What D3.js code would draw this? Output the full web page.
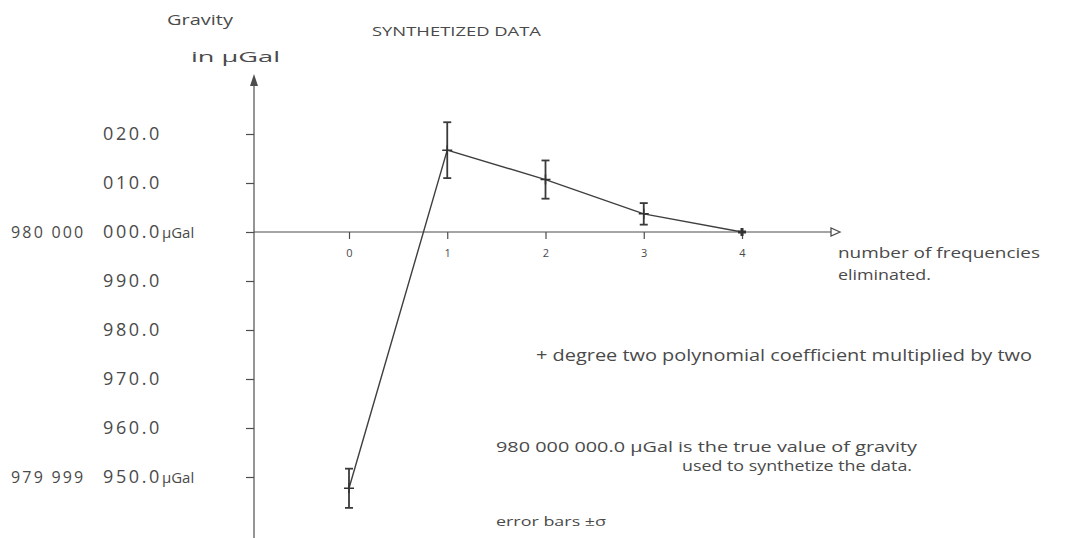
<!DOCTYPE html>
<html>
<head>
<meta charset="utf-8">
<script src="https://cdn.jsdelivr.net/npm/d3@7"></script>
<style>
  body { margin: 0; background: #fff; }
  text { font-family: "Open Sans", "DejaVu Sans", sans-serif; fill: #4a4a4a; }
</style>
</head>
<body>
<svg id="mainsvg" width="1066" height="538"></svg>
<script>
// values, gravity offsets in μGal relative to 980 000 000.0 μGal
const eliminated = [0, 1, 2, 3, 4]
const gravityOffset = [-52.3, 16.7, 10.7, 3.7, 0]
const sigma = [4.0, 5.7, 3.9, 2.2, 0]
const yTicks = [20, 10, 0, -10, -20, -30, -40, -50]
const yTickLabels = ['020.0', '010.0', '000.0', '990.0', '980.0', '970.0', '960.0', '950.0']
const yPrefix = { '0': '980 000', '-50': '979 999' }
const yUnit = { '0': 'μGal', '-50': 'μGal' }

const svg = d3.select('#mainsvg')
const ink = '#4d4d4d'

const axisX = 254, axisTop = 74, axisBottom = 538, axisRight = 840
const x = d3.scaleLinear().domain([0, 4]).range([349, 742])
const y = d3.scaleLinear().domain([-50, 20]).range([477, 134])
const y0 = y(0)

// axes lines
svg.append('line').attr('x1', axisX).attr('x2', axisX).attr('y1', axisTop + 8).attr('y2', axisBottom)
    .attr('stroke', ink).attr('stroke-width', 1.2)
svg.append('path').attr('d', `M${axisX},${axisTop} L${axisX - 4},${axisTop + 12} L${axisX + 4},${axisTop + 12} Z`)
    .attr('fill', ink)
svg.append('line').attr('x1', axisX).attr('x2', axisRight - 9).attr('y1', y0).attr('y2', y0)
    .attr('stroke', ink).attr('stroke-width', 1.1)
svg.append('path').attr('d', `M${axisRight},${y0} L${axisRight - 9},${y0 - 4} L${axisRight - 9},${y0 + 4} Z`)
    .attr('fill', 'none').attr('stroke', ink).attr('stroke-width', 1.3)

// y ticks
const yAxis = d3.axisLeft(y).tickValues(yTicks).tickSize(8).tickFormat('')
const gy = svg.append('g').attr('transform', `translate(${axisX},0)`).call(yAxis)
gy.select('.domain').remove()
gy.selectAll('line').attr('stroke', ink).attr('stroke-width', 1.2)

const labels = svg.append('g')
labels.selectAll('text.tick').data(yTicks).join('text')
    .attr('class', 'tick')
    .attr('x', 103).attr('y', d => y(d) + 6)
    .attr('font-size', 18).attr('letter-spacing', 2.6)
    .text((d, i) => yTickLabels[i])
    .append('tspan').attr('font-size', 15).attr('letter-spacing', 0).text(d => yUnit[d] || '')
labels.selectAll('text.prefix').data(yTicks.filter(d => yPrefix[d])).join('text')
    .attr('class', 'prefix')
    .attr('x', 11).attr('y', d => y(d) + 6)
    .attr('font-size', 16).attr('letter-spacing', 2.2)
    .text(d => yPrefix[d])

// x ticks
const xAxis = d3.axisBottom(x).tickValues(eliminated).tickSize(7).tickPadding(10).tickFormat(d3.format('d'))
const gx = svg.append('g').attr('transform', `translate(0,${y0})`).call(xAxis)
gx.select('.domain').remove()
gx.selectAll('line').attr('stroke', ink).attr('stroke-width', 1.2)
gx.selectAll('text').attr('font-size', 11).attr('font-family', '"Open Sans", sans-serif').attr('fill', ink)

// data line
const pts = eliminated.map((e, i) => ({ e, v: gravityOffset[i], s: sigma[i] }))
svg.append('path').datum(pts)
    .attr('d', d3.line().x(d => x(d.e)).y(d => y(d.v)))
    .attr('fill', 'none').attr('stroke', '#3f3f3f').attr('stroke-width', 1.4)

// error bars
const eb = svg.append('g').selectAll('g').data(pts.filter(d => d.s > 0)).join('g')
    .attr('stroke', '#3a3a3a').attr('stroke-width', 1.8)
eb.append('line').attr('x1', d => x(d.e)).attr('x2', d => x(d.e))
    .attr('y1', d => y(d.v + d.s)).attr('y2', d => y(d.v - d.s))
eb.append('line').attr('x1', d => x(d.e) - 4).attr('x2', d => x(d.e) + 4)
    .attr('y1', d => y(d.v + d.s)).attr('y2', d => y(d.v + d.s))
eb.append('line').attr('x1', d => x(d.e) - 4).attr('x2', d => x(d.e) + 4)
    .attr('y1', d => y(d.v - d.s)).attr('y2', d => y(d.v - d.s))

// + markers
svg.append('g').selectAll('path').data(pts).join('path')
    .attr('d', d => { const cx = x(d.e), cy = y(d.v), r = d.s > 0 ? 5 : 4
        return `M${cx - r},${cy} H${cx + r} M${cx},${cy - r} V${cy + r}` })
    .attr('stroke', '#333').attr('stroke-width', d => d.s > 0 ? 1.5 : 3)

// texts
const txt = (s, tx, ty, size, len) => {
    const t = svg.append('text').attr('x', tx).attr('y', ty).attr('font-size', size).text(s)
    if (len) t.attr('textLength', len).attr('lengthAdjust', 'spacingAndGlyphs')
    return t
}
txt('Gravity', 167, 25, 15, 66)
txt('in μGal', 191, 62, 14, 89)
txt('SYNTHETIZED DATA', 372, 36, 12, 169)
txt('number of frequencies', 838, 258, 15, 202)
txt('eliminated.', 838, 280, 15, 93)
txt('+ degree two polynomial coefficient multiplied by two', 536, 361, 16, 496)
txt('980 000 000.0 μGal is the true value of gravity', 496, 452, 15, 421)
txt('used to synthetize the data.', 682, 471, 15, 230)
txt('error bars ±σ', 496, 526, 13, 110)
</script>
</body>
</html>
